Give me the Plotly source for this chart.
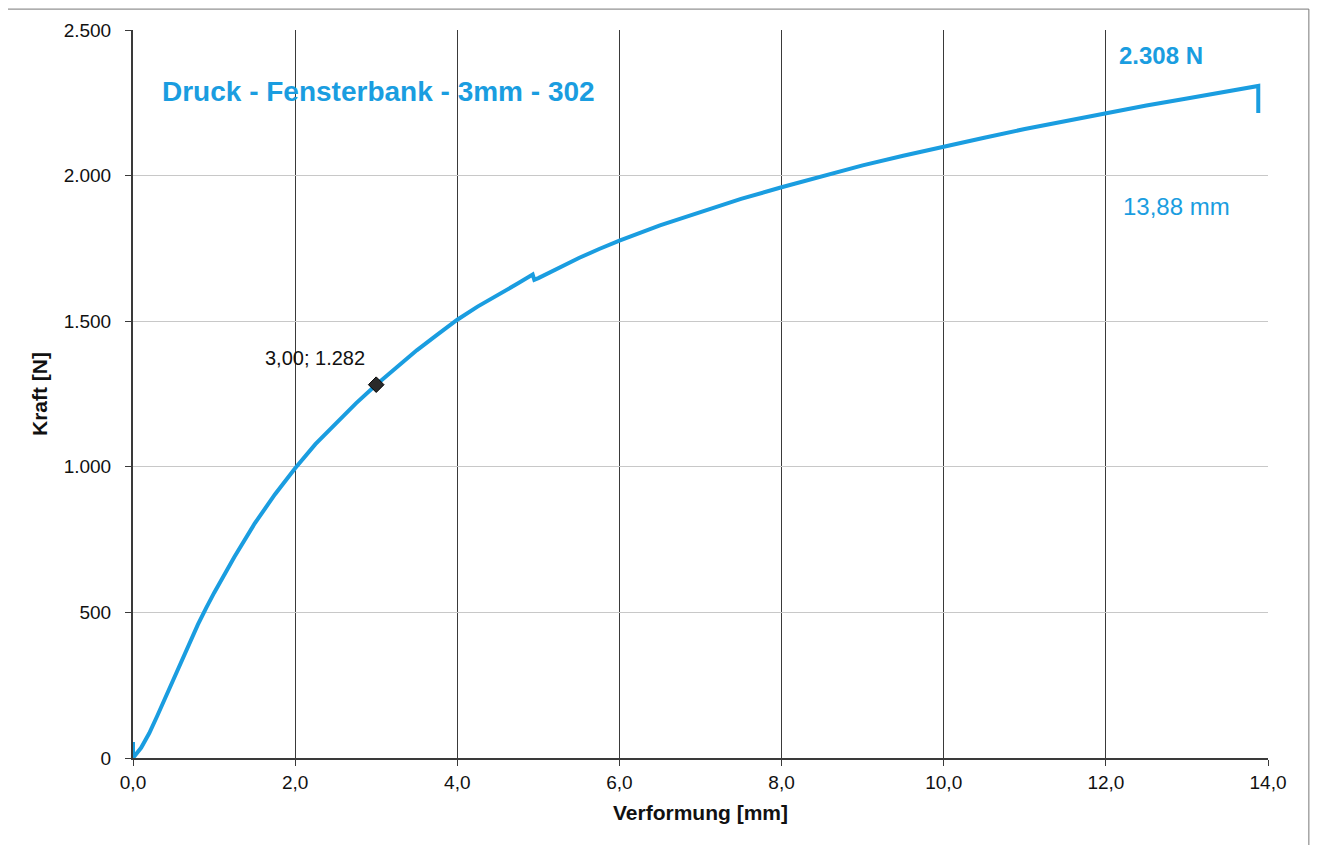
import plotly.graph_objects as go

# Deformation [mm] and force [N]
verformung_mm = [0.0, 0.0, 0.0, 0.1, 0.2, 0.3, 0.4, 0.5, 0.6, 0.7, 0.8, 0.9, 1.0, 1.25, 1.5, 1.75,
                 2.0, 2.25, 2.5, 2.75, 3.0, 3.25, 3.5, 3.75, 4.0, 4.25, 4.5, 4.75, 4.93, 4.95,
                 5.0, 5.25, 5.5, 5.75, 6.0, 6.5, 7.0, 7.5, 8.0, 8.5, 9.0, 9.5, 10.0, 10.5, 11.0, 11.5,
                 12.0, 12.5, 13.0, 13.5, 13.88, 13.88]
kraft_n = [0, 55, 0, 35, 85, 145, 208, 272, 336, 398, 458, 514, 567, 690, 805, 905,
           995, 1078, 1150, 1218, 1282, 1343, 1400, 1453, 1505, 1550, 1592, 1630, 1660, 1642,
           1648, 1684, 1717, 1748, 1777, 1829, 1876, 1920, 1960, 1998, 2035, 2068, 2100, 2130, 2160, 2188,
           2216, 2241, 2265, 2290, 2308, 2215]

marker_x = [3.00]
marker_y = [1282]

x_ticks = [0, 2, 4, 6, 8, 10, 12, 14]
y_ticks = [0, 500, 1000, 1500, 2000, 2500]

title_text = "Druck - Fensterbank - 3mm - 302"
max_force_text = "2.308 N"
max_def_text = "13,88 mm"
marker_text = "3,00; 1.282"

blue = "#1a9de0"
font_family = "Liberation Sans, Arial, sans-serif"

fig = go.Figure()
fig.add_trace(go.Scatter(x=verformung_mm, y=kraft_n, mode="lines",
                         line=dict(color=blue, width=4),
                         hoverinfo="skip"))
fig.add_trace(go.Scatter(x=marker_x, y=marker_y, mode="markers",
                         marker=dict(symbol="diamond", size=12, color="#2a2a2a",
                                     line=dict(color="#000000", width=1))))

fig.update_layout(
    width=1321, height=845,
    margin=dict(l=125, r=61, t=19, b=95),
    paper_bgcolor="white", plot_bgcolor="white",
    showlegend=False,
    separators=",.",
    font=dict(family=font_family, color="#111111", size=19),
    xaxis=dict(range=[0, 14], tickvals=x_ticks, tickformat=".1f",
               showgrid=True, gridcolor="#3a3a3a", gridwidth=1,
               showline=True, linecolor="#3a3a3a", linewidth=2,
               ticks="outside", ticklen=6, tickcolor="#3a3a3a",
               zeroline=False,
               title=dict(text="<b>Verformung [mm]</b>", font=dict(size=21), standoff=14),
               tickfont=dict(size=19)),
    yaxis=dict(range=[0, 2500], tickvals=y_ticks, tickformat=",d",
               showgrid=True, gridcolor="#c8c8c8", gridwidth=1,
               showline=True, linecolor="#3a3a3a", linewidth=2,
               ticks="outside", ticklen=6, tickcolor="#3a3a3a",
               ticklabelstandoff=10,
               zeroline=False,
               title=dict(text="<b>Kraft [N]</b>", font=dict(size=21), standoff=10),
               tickfont=dict(size=19)),
    annotations=[
        dict(x=0.0238, y=0.916, xref="paper", yref="paper", text="<b>" + title_text + "</b>",
             showarrow=False, xanchor="left", yanchor="middle",
             font=dict(size=28, color=blue)),
        dict(x=verformung_mm[-2], y=0.9645, xref="x", yref="paper", text="<b>" + max_force_text + "</b>",
             showarrow=False, xanchor="right", yanchor="middle", xshift=-53,
             font=dict(size=24, color=blue)),
        dict(x=verformung_mm[-2], y=0.757, xref="x", yref="paper", text=max_def_text,
             showarrow=False, xanchor="right", yanchor="middle", xshift=-26,
             font=dict(size=24, color=blue)),
        dict(x=marker_x[0], y=marker_y[0], xref="x", yref="y", text=marker_text,
             showarrow=False, xanchor="right", yanchor="middle", xshift=-9, yshift=27,
             font=dict(size=20, color="#111111")),
    ],
    shapes=[
        dict(type="rect", xref="paper", yref="paper", x0=-0.111, x1=1.036, y0=-0.14, y1=1.0287,
             line=dict(color="#777777", width=1)),
    ],
)

fig.write_html("out.html")
